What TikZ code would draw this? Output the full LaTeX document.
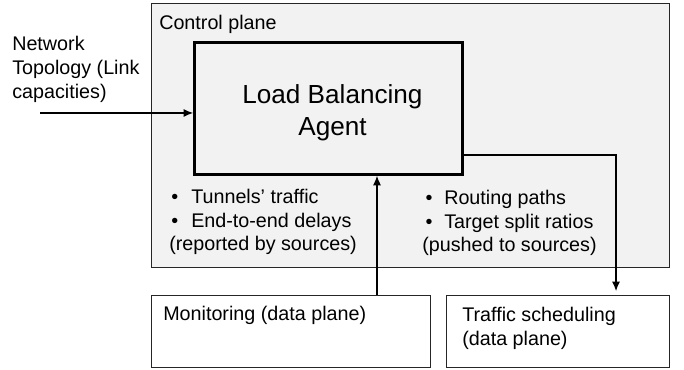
\documentclass[tikz,border=0pt]{standalone}
\usepackage{fontspec}
\setmainfont{Liberation Sans}
\usetikzlibrary{arrows.meta, calc}
\definecolor{planeFill}{HTML}{F2F2F2}

\begin{document}
\begin{tikzpicture}[x=0.75pt, y=-0.75pt,
    box/.style={draw=black!85, line width=0.9pt, inner sep=0pt, anchor=north west},
    txt/.style={inner sep=0pt, anchor=north west, align=left, font=\fontsize{14.8}{17.6}\selectfont},
    arr/.style={-{Latex[length=7pt, width=6pt]}, line width=0.8pt}]
    \useasboundingbox (0,0) rectangle (684,370);

    \node[box, fill=planeFill, minimum width=388.5pt, minimum height=198pt] (ctrl) at (151,3) {};
    \node[txt] (ctrl-lbl) at (159,15) {Control plane};

    \node[box, line width=2.2pt, draw=black, minimum width=201pt, minimum height=99pt,
        anchor=north west] (agent) at (193,41) {};
    \node[align=center, font=\fontsize{19.6}{24}\selectfont] (agent-lbl) at ($(agent.center)+(4,4)$)
        {Load Balancing\\Agent};

    \node[txt, font=\fontsize{14.8}{18}\selectfont] (topo) at (12,36)
        {Network\\Topology (Link\\capacities)};
    \coordinate (topo-in) at (40,113);
    \draw[arr] (topo-in) -- (topo-in -| agent.west);

    \node[txt] (report) at (169,189)
        {\makebox[16.5pt][l]{\hspace{1.5pt}\textbullet}Tunnels’ traffic\\
         \makebox[16.5pt][l]{\hspace{1.5pt}\textbullet}End-to-end delays\\
         (reported by sources)};
    \node[txt] (push) at (422,190)
        {\makebox[16.5pt][l]{\hspace{2.5pt}\textbullet}Routing paths\\
         \makebox[16.5pt][l]{\hspace{2.5pt}\textbullet}Target split ratios\\
         (pushed to sources)};

    \node[box, minimum width=209pt, minimum height=54pt] (mon) at (151,295) {};
    \node[txt] (mon-lbl) at (163,306) {Monitoring (data plane)};
    \node[box, minimum width=167pt, minimum height=54pt] (sched) at (446,295) {};
    \node[txt] (sched-lbl) at (462,307) {Traffic scheduling\\(data plane)};

    \coordinate (up) at (377,0);
    \coordinate (down) at (616,155);
    \draw[arr] (mon.north -| up) -- (agent.south -| up);
    \draw[arr, shorten >=3pt] (agent.east |- down) -- (down) -- (down |- sched.north);
\end{tikzpicture}
\end{document}
